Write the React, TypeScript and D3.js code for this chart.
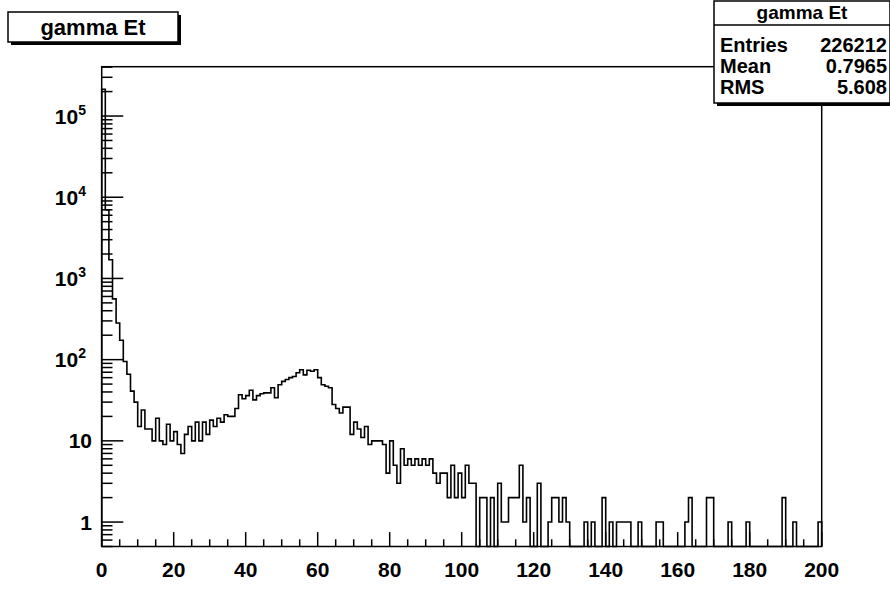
import React, { useEffect, useRef } from 'react';
import * as d3 from 'd3';

// gamma Et histogram, 200 bins of width 1 from 0 to 200
const binLow = 0;
const binHigh = 200;
const counts: number[] = [
  214000, 7000, 1700, 560, 283, 173, 95, 66, 41, 30,
  15, 24, 14, 14, 10, 19, 10, 9, 16, 10,
  13, 9, 7, 12, 15, 10, 17, 10, 17, 12,
  18, 15, 19, 17, 21, 20, 20, 25, 37, 33,
  36, 42, 32, 36, 38, 39, 39, 45, 34, 49,
  54, 57, 60, 62, 69, 75, 65, 74, 72, 75,
  60, 49, 47, 45, 28, 25, 22, 26, 26, 12,
  17, 14, 11, 15, 9, 10, 10, 10, 9, 4,
  10, 5, 3, 8, 5, 6, 5, 6, 5, 6,
  5, 6, 4, 3, 4, 4, 2, 5, 2, 4,
  2, 5, 3, 3, 0, 2, 2, 0, 2, 0,
  3, 1, 1, 2, 2, 2, 5, 1, 2, 0,
  0, 3, 0, 0, 1, 2, 2, 1, 2, 1,
  0, 0, 0, 0, 1, 0, 1, 0, 0, 2,
  0, 1, 0, 1, 1, 1, 1, 0, 0, 1,
  0, 0, 0, 0, 1, 1, 0, 0, 0, 0,
  0, 0, 1, 2, 0, 0, 0, 0, 2, 2,
  0, 0, 0, 0, 1, 0, 0, 0, 0, 1,
  0, 0, 0, 0, 0, 0, 0, 0, 0, 2,
  0, 0, 1, 0, 0, 0, 0, 0, 0, 1,
];

const xTickLabels = [0, 20, 40, 60, 80, 100, 120, 140, 160, 180, 200];
const yDecades = [1, 10, 100, 1000, 10000, 100000];

const title = 'gamma Et';
const statLabels = ['Entries', 'Mean', 'RMS'];
const statValues = ['226212', '0.7965', '5.608'];

const FONT = '"Liberation Sans", Arial, Helvetica, sans-serif';

const App = () => {
  const svgRef = useRef<SVGSVGElement | null>(null);

  useEffect(() => {
    if (!svgRef.current) return;
    const svg = d3.select(svgRef.current);
    svg.selectAll('*').remove();

    const frame = { left: 101.7, right: 821.7, top: 66.7, bottom: 546.5 };

    const x = d3.scaleLinear().domain([binLow, binHigh]).range([frame.left, frame.right]);
    const y = d3.scaleLog().domain([0.5, 4.05e5]).range([frame.bottom, frame.top]);
    const binWidth = (binHigh - binLow) / counts.length;

    svg.append('rect')
      .attr('width', 890).attr('height', 600).attr('fill', '#fff');

    // Histogram step line (empty bins drop to the frame bottom)
    const yOf = (v: number) => (v > 0 ? Math.max(frame.top, y(v)) : frame.bottom);
    let d = `M${x(binLow)},${frame.bottom}`;
    counts.forEach((c, i) => {
      d += `V${yOf(c)}H${x(binLow + (i + 1) * binWidth)}`;
    });
    d += `V${frame.bottom}`;
    svg.append('path')
      .attr('d', d)
      .attr('fill', 'none')
      .attr('stroke', '#000')
      .attr('stroke-width', 1.6);

    // Frame
    svg.append('rect')
      .attr('x', frame.left).attr('y', frame.top)
      .attr('width', frame.right - frame.left)
      .attr('height', frame.bottom - frame.top)
      .attr('fill', 'none').attr('stroke', '#000').attr('stroke-width', 1.5);

    // X axis ticks (inward)
    const xMajor = 0.03 * (frame.bottom - frame.top);
    d3.range(binLow, binHigh + 1, 5).forEach(t => {
      const major = t % 20 === 0;
      svg.append('line')
        .attr('x1', x(t)).attr('x2', x(t))
        .attr('y1', frame.bottom).attr('y2', frame.bottom - (major ? xMajor : xMajor / 2))
        .attr('stroke', '#000').attr('stroke-width', 1.5);
    });
    svg.append('g')
      .selectAll('text')
      .data(xTickLabels)
      .join('text')
      .attr('x', d => x(d))
      .attr('y', 577)
      .attr('text-anchor', 'middle')
      .attr('font-family', FONT)
      .attr('font-weight', 'bold')
      .attr('font-size', 21)
      .text(d => String(d));

    // Y axis ticks (log, inward)
    const yMajor = 0.03 * (frame.right - frame.left);
    for (let e = -1; e <= 5; e++) {
      for (let m = 1; m <= 9; m++) {
        const v = m * Math.pow(10, e);
        if (v < 0.5 || v > 4.05e5) continue;
        svg.append('line')
          .attr('x1', frame.left).attr('x2', frame.left + (m === 1 ? yMajor : yMajor / 2))
          .attr('y1', y(v)).attr('y2', y(v))
          .attr('stroke', '#000').attr('stroke-width', 1.5);
      }
    }
    yDecades.forEach(v => {
      const exp = Math.round(Math.log10(v));
      const t = svg.append('text')
        .attr('y', y(v) + 7.5)
        .attr('font-family', FONT)
        .attr('font-weight', 'bold')
        .attr('font-size', 21)
        .attr('text-anchor', 'end');
      if (exp <= 1) {
        t.attr('x', 92).text(String(v));
      } else {
        t.attr('x', 86);
        t.append('tspan').text('10');
        t.append('tspan').attr('font-size', 14).attr('dy', -9).text(String(exp));
      }
    });

    // Title box
    svg.append('rect').attr('x', 11).attr('y', 15).attr('width', 170).attr('height', 30).attr('fill', '#000');
    svg.append('rect').attr('x', 8).attr('y', 12).attr('width', 170).attr('height', 30)
      .attr('fill', '#fff').attr('stroke', '#000').attr('stroke-width', 1.5);
    svg.append('text')
      .attr('x', 93).attr('y', 35)
      .attr('text-anchor', 'middle')
      .attr('font-family', FONT).attr('font-weight', 'bold').attr('font-size', 22)
      .text(title);

    // Stats box
    const sb = { x: 714, y: 1, w: 176, h: 102 };
    svg.append('rect').attr('x', sb.x + 3).attr('y', sb.y + 3).attr('width', sb.w).attr('height', sb.h).attr('fill', '#000');
    svg.append('rect').attr('x', sb.x).attr('y', sb.y).attr('width', sb.w).attr('height', sb.h)
      .attr('fill', '#fff').attr('stroke', '#000').attr('stroke-width', 1.5);
    svg.append('line')
      .attr('x1', sb.x).attr('x2', sb.x + sb.w)
      .attr('y1', 25).attr('y2', 25)
      .attr('stroke', '#000').attr('stroke-width', 1.5);
    svg.append('text')
      .attr('x', sb.x + sb.w / 2).attr('y', 19)
      .attr('text-anchor', 'middle')
      .attr('font-family', FONT).attr('font-weight', 'bold').attr('font-size', 19)
      .text(title);
    statLabels.forEach((lab, i) => {
      const ty = 52 + i * 21;
      svg.append('text')
        .attr('x', sb.x + 6).attr('y', ty)
        .attr('font-family', FONT).attr('font-weight', 'bold').attr('font-size', 20)
        .text(lab);
      svg.append('text')
        .attr('x', sb.x + sb.w - 3).attr('y', ty)
        .attr('text-anchor', 'end')
        .attr('font-family', FONT).attr('font-weight', 'bold').attr('font-size', 20)
        .text(statValues[i]);
    });
  }, []);

  return (
    <svg
      ref={svgRef}
      width={890}
      height={600}
      style={{ position: 'absolute', left: 0, top: 0 }}
    />
  );
};

export default App;
